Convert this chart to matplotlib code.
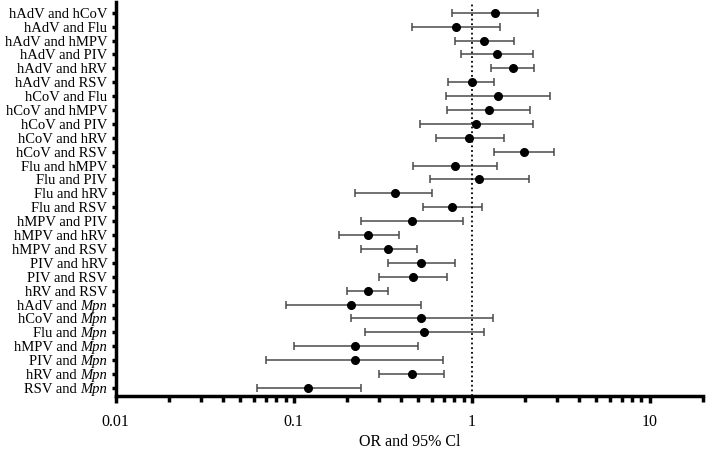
import matplotlib
matplotlib.use("Agg")
import matplotlib.pyplot as plt
import matplotlib.transforms as mtransforms
from matplotlib.ticker import LogLocator, FuncFormatter, NullFormatter

plt.rcParams['font.family'] = ['Liberation Serif', 'DejaVu Serif']

labels = [
    "hAdV and hCoV", "hAdV and Flu", "hAdV and hMPV", "hAdV and PIV",
    "hAdV and hRV", "hAdV and RSV", "hCoV and Flu", "hCoV and hMPV",
    "hCoV and PIV", "hCoV and hRV", "hCoV and RSV", "Flu and hMPV",
    "Flu and PIV", "Flu and hRV", "Flu and RSV", "hMPV and PIV",
    "hMPV and hRV", "hMPV and RSV", "PIV and hRV", "PIV and RSV",
    "hRV and RSV", "hAdV and Mpn", "hCoV and Mpn", "Flu and Mpn",
    "hMPV and Mpn", "PIV and Mpn", "hRV and Mpn", "RSV and Mpn",
]
odds = [1.35, 0.82, 1.18, 1.39, 1.70, 1.00, 1.41, 1.25, 1.06, 0.97,
        1.96, 0.81, 1.10, 0.37, 0.78, 0.46, 0.26, 0.34, 0.52, 0.47,
        0.26, 0.21, 0.52, 0.54, 0.22, 0.22, 0.46, 0.12]
ci_low = [0.78, 0.46, 0.81, 0.87, 1.29, 0.74, 0.72, 0.73, 0.51, 0.63,
          1.33, 0.47, 0.58, 0.22, 0.53, 0.24, 0.18, 0.24, 0.34, 0.30,
          0.20, 0.09, 0.21, 0.25, 0.10, 0.07, 0.30, 0.062]
ci_high = [2.36, 1.44, 1.72, 2.22, 2.25, 1.33, 2.76, 2.13, 2.22, 1.51,
           2.90, 1.38, 2.09, 0.60, 1.15, 0.89, 0.39, 0.49, 0.81, 0.73,
           0.34, 0.52, 1.31, 1.18, 0.50, 0.69, 0.70, 0.24]

n = len(labels)
ypos = [n - 1 - i for i in range(n)]
xerr = [[o - l for o, l in zip(odds, ci_low)],
        [h - o for o, h in zip(odds, ci_high)]]
label_size = 10.5

fig = plt.figure(figsize=(7.06, 4.53), dpi=100)
ax = fig.add_axes([0.164, 0.126, 0.832, 0.870])

ax.errorbar(odds, ypos, xerr=xerr, fmt='o', color='black', ecolor='#4a4a4a',
            elinewidth=1.1, capsize=3, capthick=1.1, markersize=5.5)
ax.axvline(1, color='black', linestyle=(0, (1, 1.6)), linewidth=1.3)

ax.set_xscale('log')
ax.set_xlim(0.01, 20)
ax.set_ylim(-0.58, n - 0.21)
ax.set_yticks(ypos)

# "Mpn" is italic, so those labels are drawn in two pieces
tick_text = [lab if not lab.endswith(' Mpn') else '' for lab in labels]
ax.set_yticklabels(tick_text, fontsize=label_size)
ytrans = ax.get_yaxis_transform()
shift = mtransforms.ScaledTranslation(-6 / 72, 0, fig.dpi_scale_trans)
for lab, y in zip(labels, ypos):
    if lab.endswith(' Mpn'):
        it = ax.text(0, y, 'Mpn', transform=ytrans + shift, ha='right',
                     va='center_baseline', fontsize=label_size, style='italic')
        ax.annotate(lab[:-3], xy=(0, y), xycoords=(it, ytrans), ha='right',
                    va='center_baseline', fontsize=label_size)

ax.xaxis.set_major_locator(LogLocator(base=10))
ax.xaxis.set_minor_locator(LogLocator(base=10, subs=range(2, 10)))
ax.xaxis.set_major_formatter(FuncFormatter(lambda v, p: f"{v:g}"))
ax.xaxis.set_minor_formatter(NullFormatter())
ax.tick_params(axis='x', which='major', labelsize=11.5, length=5, width=2.5, pad=8)
ax.tick_params(axis='x', which='minor', length=4, width=2.5)
ax.tick_params(axis='y', length=3, width=2.5, pad=3)

for side in ['top', 'right']:
    ax.spines[side].set_visible(False)
for side in ['left', 'bottom']:
    ax.spines[side].set_linewidth(2.5)

ax.set_xlabel('OR and 95% Cl', fontsize=11.5, labelpad=3)

fig.savefig('out.png', dpi=100)
